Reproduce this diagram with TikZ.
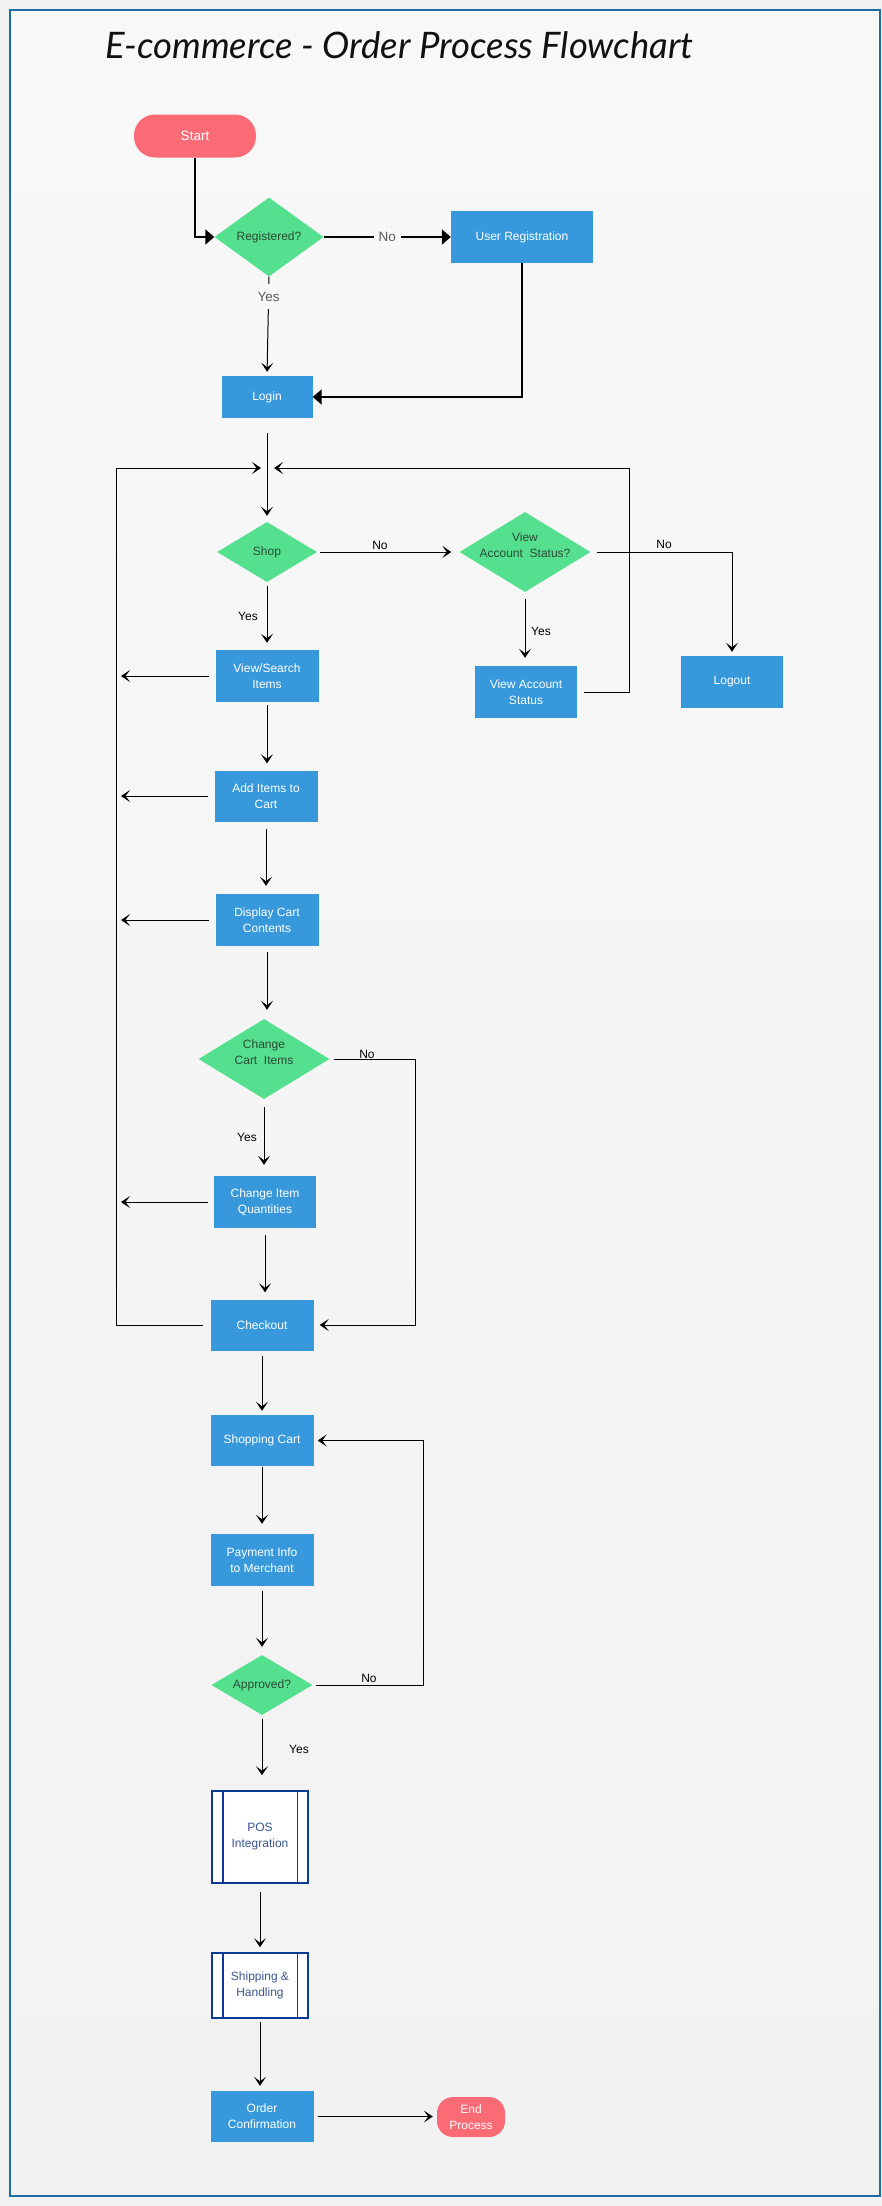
\documentclass[tikz,border=0pt]{standalone}
\usepackage{fontspec}
\setmainfont{Liberation Sans}
\newfontfamily\titlefont{Lato}
\usetikzlibrary{shapes.geometric,arrows.meta}
\definecolor{bgout}{HTML}{F2F2F2}
\definecolor{bgtop}{HTML}{F8F8F8}
\definecolor{bgbot}{HTML}{F2F2F2}
\definecolor{framecol}{HTML}{1A6FA0}
\definecolor{termred}{HTML}{FA6B76}
\definecolor{diagreen}{HTML}{55E08F}
\definecolor{boxblue}{HTML}{3799DC}
\definecolor{predblue}{HTML}{0A3A94}
\definecolor{predtext}{HTML}{3A5590}
\definecolor{diatext}{HTML}{2A4A34}
\definecolor{lblgray}{HTML}{5A5A5A}
\definecolor{titleblack}{HTML}{111111}
\tikzset{
  txt/.style={font=\fontsize{12}{16}\selectfont, align=center},
  procbox/.style={rectangle, fill=boxblue, text=white, txt, inner sep=0pt},
  termbox/.style={rectangle, fill=termred, text=white, txt, inner sep=0pt},
  dia/.style={diamond, fill=diagreen, inner sep=0pt},
  dtext/.style={text=diatext, txt},
  pred/.style={rectangle, draw=predblue, line width=1.6pt, fill=white, text=predtext, txt, inner sep=0pt},
  conn/.style={draw=black, line width=1pt, -{Stealth[length=9pt,width=12pt,inset=4.5pt]}},
  thk/.style={draw=black, line width=2pt, -{Triangle[length=9pt,width=15pt]}},
  lbl/.style={font=\fontsize{12}{14}\selectfont, text=black, inner sep=1pt},
  lblbig/.style={font=\fontsize{13.5}{16}\selectfont, text=lblgray},
}
\begin{document}
\begin{tikzpicture}[x=1pt,y=-1pt]
\useasboundingbox (0,0) rectangle (882,2206);
\fill[bgout] (0,0) rectangle (882,2206);
\shadedraw[top color=bgtop, bottom color=bgbot, draw=framecol, line width=2.5pt] (10,10) rectangle (880,2196);

\node[anchor=base west, font=\titlefont\itshape\fontsize{36.5}{42}\selectfont, text=titleblack, inner sep=0pt] (title) at (105,58) {E-commerce - Order Process Flowchart};

% nodes
\node[termbox, rounded corners=21pt, minimum width=122pt, minimum height=43pt, font=\fontsize{13.5}{16}\selectfont] (start) at (195,136) {Start};
\node[dia, minimum width=109pt, minimum height=79pt, label={[dtext]center:Registered?}] (reg) at (269,237) {};
\node[procbox, minimum width=142pt, minimum height=52pt] (userreg) at (522,237) {User Registration};
\node[procbox, minimum width=91pt, minimum height=42pt] (login) at (267,397) {Login};
\node[dia, minimum width=100pt, minimum height=60pt, label={[dtext]center:Shop}] (shop) at (267,552) {};
\node[dia, minimum width=131pt, minimum height=80pt, label={[dtext,yshift=7pt]center:{View\\Account~~Status?}}] (vasq) at (525,552) {};
\node[procbox, minimum width=102pt, minimum height=52pt] (logout) at (732,682) {Logout};
\node[procbox, minimum width=102pt, minimum height=52pt] (vas) at (526,692) {View Account\\Status};
\node[procbox, minimum width=103pt, minimum height=52pt] (view) at (267,676) {View/Search\\Items};
\node[procbox, minimum width=103pt, minimum height=51pt] (add) at (266,796) {Add Items to\\Cart};
\node[procbox, minimum width=103pt, minimum height=52pt] (disp) at (267,920) {Display Cart\\Contents};
\node[dia, minimum width=131pt, minimum height=80pt, label={[dtext,yshift=7pt]center:{Change\\Cart~~Items}}] (change) at (264,1059) {};
\node[procbox, minimum width=102pt, minimum height=52pt] (qty) at (265,1202) {Change Item\\Quantities};
\node[procbox, minimum width=103pt, minimum height=51pt] (checkout) at (262,1325) {Checkout};
\node[procbox, minimum width=103pt, minimum height=51pt] (cart) at (262,1440.5) {Shopping Cart};
\node[procbox, minimum width=103pt, minimum height=52pt] (pay) at (262,1560) {Payment Info\\to Merchant};
\node[dia, minimum width=101pt, minimum height=60pt, label={[dtext]center:Approved?}] (appr) at (262,1685) {};
\node[pred, minimum width=96pt, minimum height=92pt] (pos) at (260,1837) {POS\\Integration};
\node[pred, minimum width=96pt, minimum height=65pt] (ship) at (260,1985.5) {Shipping \&\\Handling};
\node[procbox, minimum width=103pt, minimum height=51pt] (conf) at (262,2116.5) {Order\\Confirmation};
\node[termbox, rounded corners=16pt, minimum width=68pt, minimum height=40pt] (end) at (471,2117) {End\\Process};

\foreach \n in {pos,ship}{
  \draw[predblue, line width=1.6pt] ([xshift=11.5pt]\n.north west) -- ([xshift=11.5pt]\n.south west);
  \draw[predblue, line width=1.6pt] ([xshift=-11.5pt]\n.north east) -- ([xshift=-11.5pt]\n.south east);
}

% coordinates
\coordinate (jn) at (267,468);
\coordinate (lx) at (116,468);
\coordinate (rx) at (629,468);
\coordinate (cx) at (415,1059);
\coordinate (ax) at (423,1685);

% connectors
\draw[thk] (start.south) |- (reg.west);
\draw[thk] (reg.east) -- (userreg.west) node[midway, lblbig, fill=bgtop, inner xsep=5pt] {No};
\draw[conn, shorten >=4pt] (reg.south) -- (login.north) node[pos=0.2, lblbig, fill=bgtop, inner ysep=8pt] {Yes};
\draw[thk] (userreg.south) |- (login.east);
\draw[conn, shorten <=15pt, shorten >=6pt] (login.south) -- (shop.north);
\draw[conn, shorten <=7pt, shorten >=6pt] (checkout.west) -| (lx) -- (jn);
\draw[conn, shorten <=7pt, shorten >=7pt] (vas.east) -| (rx) -- (jn);
\draw[conn, shorten <=3pt, shorten >=8pt] (shop.east) -- (vasq.west);
\draw[conn, shorten <=6pt, shorten >=4pt] (vasq.east) -| (logout.north);
\draw[conn, shorten <=7pt, shorten >=8pt] (vasq.south) -- (vasq.south |- vas.north);
\draw[conn, shorten <=4pt, shorten >=7pt] (shop.south) -- (shop.south |- view.north);
\foreach \n in {view,add,disp,qty}{
  \draw[conn, shorten <=6pt, shorten >=5pt] (\n.west) -- (\n.west -| lx);
}
\draw[conn, shorten <=3pt, shorten >=7pt] (view.south) -- (view.south |- add.north);
\draw[conn, shorten <=7pt, shorten >=8pt] (add.south) -- (add.south |- disp.north);
\draw[conn, shorten <=6pt, shorten >=9pt] (disp.south) -- (disp.south |- change.north);
\draw[conn, shorten <=4pt, shorten >=6pt] (change.east) -- (cx) |- (checkout.east);
\draw[conn, shorten <=8pt, shorten >=11pt] (change.south) -- (change.south |- qty.north);
\draw[conn, shorten <=7pt, shorten >=7pt] (qty.south) -- (qty.south |- checkout.north);
\draw[conn, shorten <=5pt, shorten >=4pt] (checkout.south) -- (cart.north);
\draw[conn, shorten <=1pt, shorten >=10pt] (cart.south) -- (pay.north);
\draw[conn, shorten <=5pt, shorten >=8pt] (pay.south) -- (appr.north);
\draw[conn, shorten <=3pt, shorten >=4pt] (appr.east) -- (ax) |- (cart.east);
\draw[conn, shorten <=4pt, shorten >=15pt] (appr.south) -- (appr.south |- pos.north);
\draw[conn, shorten <=8pt, shorten >=5pt] (pos.south) -- (pos.south |- ship.north);
\draw[conn, shorten <=3pt, shorten >=5pt] (ship.south) -- (ship.south |- conf.north);
\draw[conn, shorten <=4pt, shorten >=4pt] (conf.east) -- (conf.east -| end.west);

% labels
\node[lbl] (l1) at (380,545) {No};
\node[lbl] (l2) at (664,544) {No};
\node[lbl] (l3) at (541,631) {Yes};
\node[lbl] (l4) at (248,616) {Yes};
\node[lbl] (l5) at (367,1054) {No};
\node[lbl] (l6) at (247,1137) {Yes};
\node[lbl] (l7) at (369,1678) {No};
\node[lbl] (l8) at (299,1749) {Yes};
\end{tikzpicture}
\end{document}
